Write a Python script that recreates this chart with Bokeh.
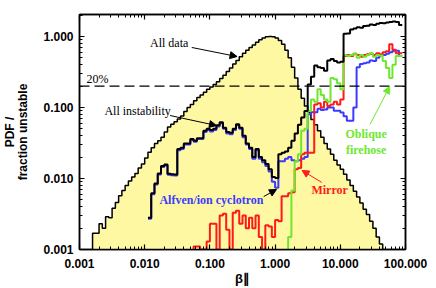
import numpy as np
from bokeh.plotting import figure
from bokeh.models import (FixedTicker, LogAxis, Span, Label, Arrow, NormalHead,
                          CustomJSTickFormatter, Range1d)
from bokeh.embed import file_html
from bokeh.resources import INLINE

# ---------------- data (log10 bins of width 0.05) ----------------
bin_width = 0.05
base = 0.001

all_data_start = -2.80
all_data = [0.0017, 0.0017, 0.0023, 0.0020, 0.0029, 0.0028, 0.0038, 0.0046, 0.0057, 0.0068,
            0.0080, 0.0092, 0.0105, 0.0118, 0.0140, 0.0160, 0.0195, 0.0235, 0.027, 0.031,
            0.034, 0.038, 0.045, 0.053, 0.058, 0.063, 0.069, 0.076, 0.088, 0.100,
            0.110, 0.124, 0.138, 0.150, 0.164, 0.180, 0.195, 0.210, 0.230, 0.255,
            0.285, 0.32, 0.36, 0.41, 0.46, 0.52, 0.58, 0.64, 0.70, 0.76,
            0.83, 0.90, 0.95, 0.99, 1.00, 0.99, 0.95, 0.88, 0.78, 0.64,
            0.50, 0.37, 0.26, 0.18, 0.135, 0.105, 0.085, 0.068, 0.057, 0.047,
            0.038, 0.031, 0.026, 0.022, 0.018, 0.0155, 0.0135, 0.0115, 0.0095, 0.0080,
            0.0066, 0.0055, 0.0045, 0.0037, 0.0031, 0.0025, 0.0020, 0.0015, 0.0012]

inst_start = -1.95
all_instability = [0.0028, 0.0062, 0.0085, 0.0118, 0.0150, 0.0158, 0.0117, 0.0115, 0.0114, 0.026,
                   0.027, 0.031, 0.031, 0.036, 0.034, 0.037, 0.037, 0.047, 0.050, 0.048,
                   0.050, 0.056, 0.062, 0.052, 0.045, 0.044, 0.050, 0.058, 0.052, 0.040,
                   0.031, 0.027, 0.020, 0.026, 0.020, 0.018, 0.016, 0.0135, 0.0105, 0.0102,
                   0.022, 0.023, 0.024, 0.027, 0.034, 0.043, 0.057, 0.072, 0.089, 0.21,
                   0.27, 0.39, 0.37, 0.36, 0.33, 0.46, 0.48, 0.45, 0.43, 0.44,
                   1.09, 1.10, 1.25, 1.30, 1.35, 1.33, 1.40, 1.42, 1.48, 1.45,
                   1.51, 1.55, 1.53, 1.58, 1.60, 1.62, 1.60, 1.45]

alfven_start = -1.95
alfven = [0.0027, 0.0060, 0.0082, 0.0114, 0.0145, 0.0153, 0.0113, 0.0111, 0.0110, 0.025,
          0.026, 0.030, 0.030, 0.035, 0.033, 0.036, 0.036, 0.045, 0.048, 0.046,
          0.048, 0.054, 0.060, 0.050, 0.043, 0.042, 0.048, 0.056, 0.050, 0.038,
          0.030, 0.026, 0.019, 0.025, 0.019, 0.017, 0.015, 0.0125, 0.0090, 0.0074,
          0.0175, 0.0175, 0.019, 0.020, 0.018, 0.0175, 0.018, 0.019, 0.020, 0.080,
          0.086, 0.086, 0.096, 0.092, 0.094, 0.100, 0.100, 0.090, 0.090, 0.085,
          0.075, 0.065, 0.065, 0.100, 0.37, 0.41, 0.42, 0.43, 0.46, 0.45,
          0.50, 0.54, 0.55, 0.57, 0.60, 0.63, 0.63, 0.53]

mirror_start = -1.25
mirror = [0.0011, 0.0011, 0.0010, 0.0010, 0.0013, 0.0023, 0.0023, 0.0010, 0.0030, 0.0032,
          0.0019, 0.0010, 0.0033, 0.0035, 0.0023, 0.0030, 0.0020, 0.0028, 0.0020, 0.0030,
          0.0015, 0.0010, 0.0022, 0.0021, 0.0015, 0.0026, 0.0025, 0.0056, 0.0056, 0.0062,
          0.0064, 0.0135, 0.014, 0.022, 0.023, 0.023, 0.023, 0.11, 0.115, 0.10,
          0.12, 0.105, 0.11, 0.12, 0.11, 0.13, 0.53, 0.55, 0.53, 0.57,
          0.55, 0.52, 0.55, 0.56, 0.57, 0.55, 0.58, 0.56, 0.60, 0.62,
          0.78, 0.65, 0.58, 0.58]

firehose_start = 0.20
firehose = [0.0015, 0.0068, 0.0175, 0.022, 0.047, 0.050, 0.089, 0.13, 0.12, 0.18,
            0.15, 0.13, 0.12, 0.26, 0.25, 0.22, 0.18, 0.55, 0.53, 0.55,
            0.57, 0.50, 0.55, 0.52, 0.55, 0.58, 0.52, 0.55, 0.54, 0.45,
            0.36, 0.26, 0.40, 0.53, 0.53]

x_ticks = [0.001, 0.01, 0.1, 1.0, 10.0, 100.0]
x_tick_labels = ["0.001", "0.010", "0.100", "1.000", "10.000", "100.000"]
y_ticks = [0.001, 0.01, 0.1, 1.0]
y_tick_labels = ["0.001", "0.010", "0.100", "1.000"]
threshold = 0.2


def step_xy(start, vals, from_base=False, to_base=False):
    edges = 10 ** (start + bin_width * np.arange(len(vals) + 1))
    xs, ys = [], []
    if from_base:
        xs.append(edges[0]); ys.append(base)
    for i, v in enumerate(vals):
        xs += [edges[i], edges[i + 1]]
        ys += [v, v]
    if to_base:
        xs.append(edges[-1]); ys.append(base)
    return xs, ys


p = figure(width=436, height=288, x_axis_type="log", y_axis_type="log",
           x_range=Range1d(0.001, 100), y_range=Range1d(0.001, 2.04),
           output_backend="svg", toolbar_location=None,
           min_border_left=74, min_border_right=31, min_border_top=14, min_border_bottom=39)
p.xgrid.visible = False
p.ygrid.visible = False
p.outline_line_color = "black"
p.outline_line_width = 1.5
p.background_fill_color = "white"

YELLOW = "#FFF8A2"
RED = "#FF1A1A"
BLUE = "#3B3BFF"
GREEN = "#6EE82E"

# all data filled histogram
ax, ay = step_xy(all_data_start, all_data, from_base=True, to_base=True)
p.patch(ax, ay, fill_color=YELLOW, line_color=None)
p.line(ax, ay, line_color="black", line_width=1.5)

# instability fractions
bx, by = step_xy(alfven_start, alfven)
p.line(bx, by, line_color=BLUE, line_width=2)
mx, my = step_xy(mirror_start, mirror, from_base=True)
p.line(mx, my, line_color=RED, line_width=2)
gx, gy = step_xy(firehose_start, firehose, from_base=True)
p.line(gx, gy, line_color=GREEN, line_width=2)
ix, iy = step_xy(inst_start, all_instability)
p.line(ix, iy, line_color="black", line_width=2)

p.add_layout(Span(location=threshold, dimension="width", line_color="black",
                  line_dash="10 5", line_width=1.2))

# axes
def fmt(tk, lb):
    return CustomJSTickFormatter(args=dict(tk=tk, lb=lb), code="""
        for (let i = 0; i < tk.length; i++) {
            if (Math.abs(Math.log10(tk[i]) - Math.log10(tick)) < 1e-6) return lb[i];
        }
        return '';
    """)

x_minor = [m * 10.0 ** d for d in range(-3, 2) for m in range(2, 10)]
y_minor = [m * 10.0 ** d for d in range(-3, 1) for m in range(2, 10)]

bottom = p.below[0]
left = p.left[0]

bottom.ticker = FixedTicker(ticks=x_ticks, minor_ticks=x_minor)
bottom.formatter = fmt(x_ticks, x_tick_labels)
left.ticker = FixedTicker(ticks=y_ticks, minor_ticks=y_minor)
left.formatter = fmt(y_ticks, y_tick_labels)

top = LogAxis(ticker=FixedTicker(ticks=x_ticks, minor_ticks=x_minor),
              formatter=CustomJSTickFormatter(code="return ' ';"))
right = LogAxis(ticker=FixedTicker(ticks=y_ticks, minor_ticks=y_minor),
                formatter=CustomJSTickFormatter(code="return ' ';"))
p.add_layout(top, "above")
p.add_layout(right, "right")

for a in [bottom, left, top, right]:
    a.axis_line_width = 1.5
    a.axis_line_color = "black"
    a.major_tick_in = 5
    a.major_tick_out = 0
    a.minor_tick_in = 3
    a.minor_tick_out = 0
    a.major_tick_line_width = 1.2
    a.major_label_text_font = "Liberation Sans"
    a.major_label_text_font_style = "bold"
    a.major_label_text_font_size = "12px"
    a.major_label_text_color = "black"
for a in [top, right]:
    a.major_label_text_font_size = "1px"
    a.major_label_standoff = 0
bottom.major_label_standoff = 9
left.major_label_standoff = 6

# axis titles
left.axis_label = "PDF /\nfraction unstable"
left.axis_label_text_font = "Liberation Sans"
left.axis_label_text_font_style = "bold"
left.axis_label_text_font_size = "12px"
left.axis_label_text_line_height = 0.95
left.axis_label_standoff = 10
left.axis_label_text_color = "black"

bottom.axis_label = "β\u2225"
bottom.axis_label_text_font = "Liberation Sans"
bottom.axis_label_text_font_style = "bold"
bottom.axis_label_text_font_size = "13px"
bottom.axis_label_standoff = 0
bottom.axis_label_text_color = "black"

serif = "Liberation Serif"
def note(x, y, text, color="black", bold=False, align="center"):
    p.add_layout(Label(x=x, y=y, text=text, text_font=serif, text_font_size="12px",
                       text_color=color, text_font_style="bold" if bold else "normal",
                       text_align=align, text_baseline="middle"))

def arrow(x0, y0, x1, y1, color="black"):
    p.add_layout(Arrow(end=NormalHead(size=7, fill_color=color, line_color=color),
                       x_start=x0, y_start=y0, x_end=x1, y_end=y1,
                       line_color=color, line_width=1))

note(0.0237, 0.80, "All data")
arrow(0.0527, 0.70, 0.261, 0.522)
note(0.00128, 0.256, "20%", align="left")
note(0.00778, 0.0879, "All instability")
arrow(0.0245, 0.0771, 0.126, 0.0557)
note(0.1057, 0.00506, "Alfven/ion cyclotron", color=BLUE, bold=True)
arrow(0.668, 0.00557, 1.05, 0.0070)
note(6.87, 0.00678, "Mirror", color=RED, bold=True)
arrow(5.2, 0.00879, 2.59, 0.01297, color=RED)
note(24.9, 0.0417, "Oblique", color=GREEN, bold=True)
note(24.9, 0.0256, "firehose", color=GREEN, bold=True)
arrow(28.6, 0.0577, 57.3, 0.198, color=GREEN)

open("out.html", "w").write(file_html(p, INLINE))
